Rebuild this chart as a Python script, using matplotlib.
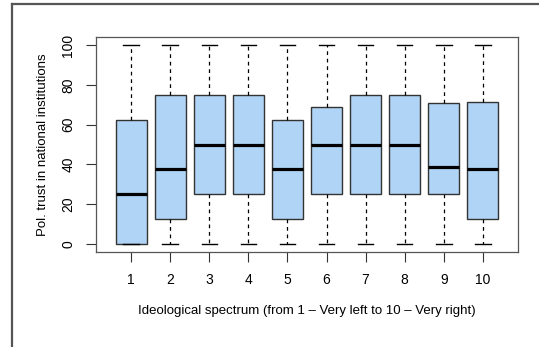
import matplotlib
matplotlib.use("Agg")
import matplotlib.pyplot as plt
from matplotlib.lines import Line2D

plt.rcParams['font.family'] = ['Liberation Sans', 'DejaVu Sans']

categories = ["1", "2", "3", "4", "5", "6", "7", "8", "9", "10"]
whislo = [0, 0, 0, 0, 0, 0, 0, 0, 0, 0]
q1 = [0, 12.5, 25, 25, 12.5, 25, 25, 25, 25, 12.5]
med = [25, 37.5, 50, 50, 37.5, 50, 50, 50, 38.8, 37.5]
q3 = [62.5, 75, 75, 75, 62.5, 69, 75, 75, 70.8, 71.5]
whishi = [100, 100, 100, 100, 100, 100, 100, 100, 100, 100]
yticks = [0, 20, 40, 60, 80, 100]

W, H = 539, 347
fig = plt.figure(figsize=(W / 100, H / 100), dpi=100)
ax = fig.add_axes([96 / W, (H - 252) / H, (518 - 96) / W, (252 - 37) / H])

stats = []
for lab, lo, a, m, b, hi in zip(categories, whislo, q1, med, q3, whishi):
    stats.append(dict(label=lab, whislo=lo, q1=a, med=m, q3=b, whishi=hi, fliers=[]))

pos = list(range(1, len(categories) + 1))
ax.bxp(stats, positions=pos, widths=0.8, patch_artist=True, showfliers=False,
       boxprops=dict(facecolor='#AFD4F5', edgecolor='#333333', linewidth=1.0),
       medianprops=dict(color='black', linewidth=2.3, solid_capstyle='butt'),
       whiskerprops=dict(color='black', linestyle=(0, (3, 3)), linewidth=0.9),
       capprops=dict(color='black', linewidth=1.0), capwidths=0.4)

ax.set_xlim(0.1, 10.9)
ax.set_ylim(-4, 104)
ax.set_yticks(yticks)
ax.set_yticklabels([str(v) for v in yticks], rotation=90, va='center', fontsize=10)
ax.set_xticks(pos)
ax.set_xticklabels(categories, fontsize=10)
ax.tick_params(axis='both', direction='out', length=7, width=0.8, color='#333333', pad=8)
for s in ax.spines.values():
    s.set_color('#555555')
    s.set_linewidth(0.9)

ax.set_ylabel("Pol. trust in national institutions", fontsize=9.5, labelpad=9)
ax.set_xlabel("Ideological spectrum (from 1 \u2013 Very left to 10 \u2013 Very right)", fontsize=9.5, labelpad=13)

# outer frame lines (left and top)
fig.add_artist(Line2D([11.5 / W, 11.5 / W], [0, (H - 3.5) / H], transform=fig.transFigure, color='#555555', linewidth=1.6))
fig.add_artist(Line2D([11.5 / W, 1], [(H - 3.5) / H, (H - 3.5) / H], transform=fig.transFigure, color='#555555', linewidth=1.6))

fig.savefig("out.png", dpi=100)
